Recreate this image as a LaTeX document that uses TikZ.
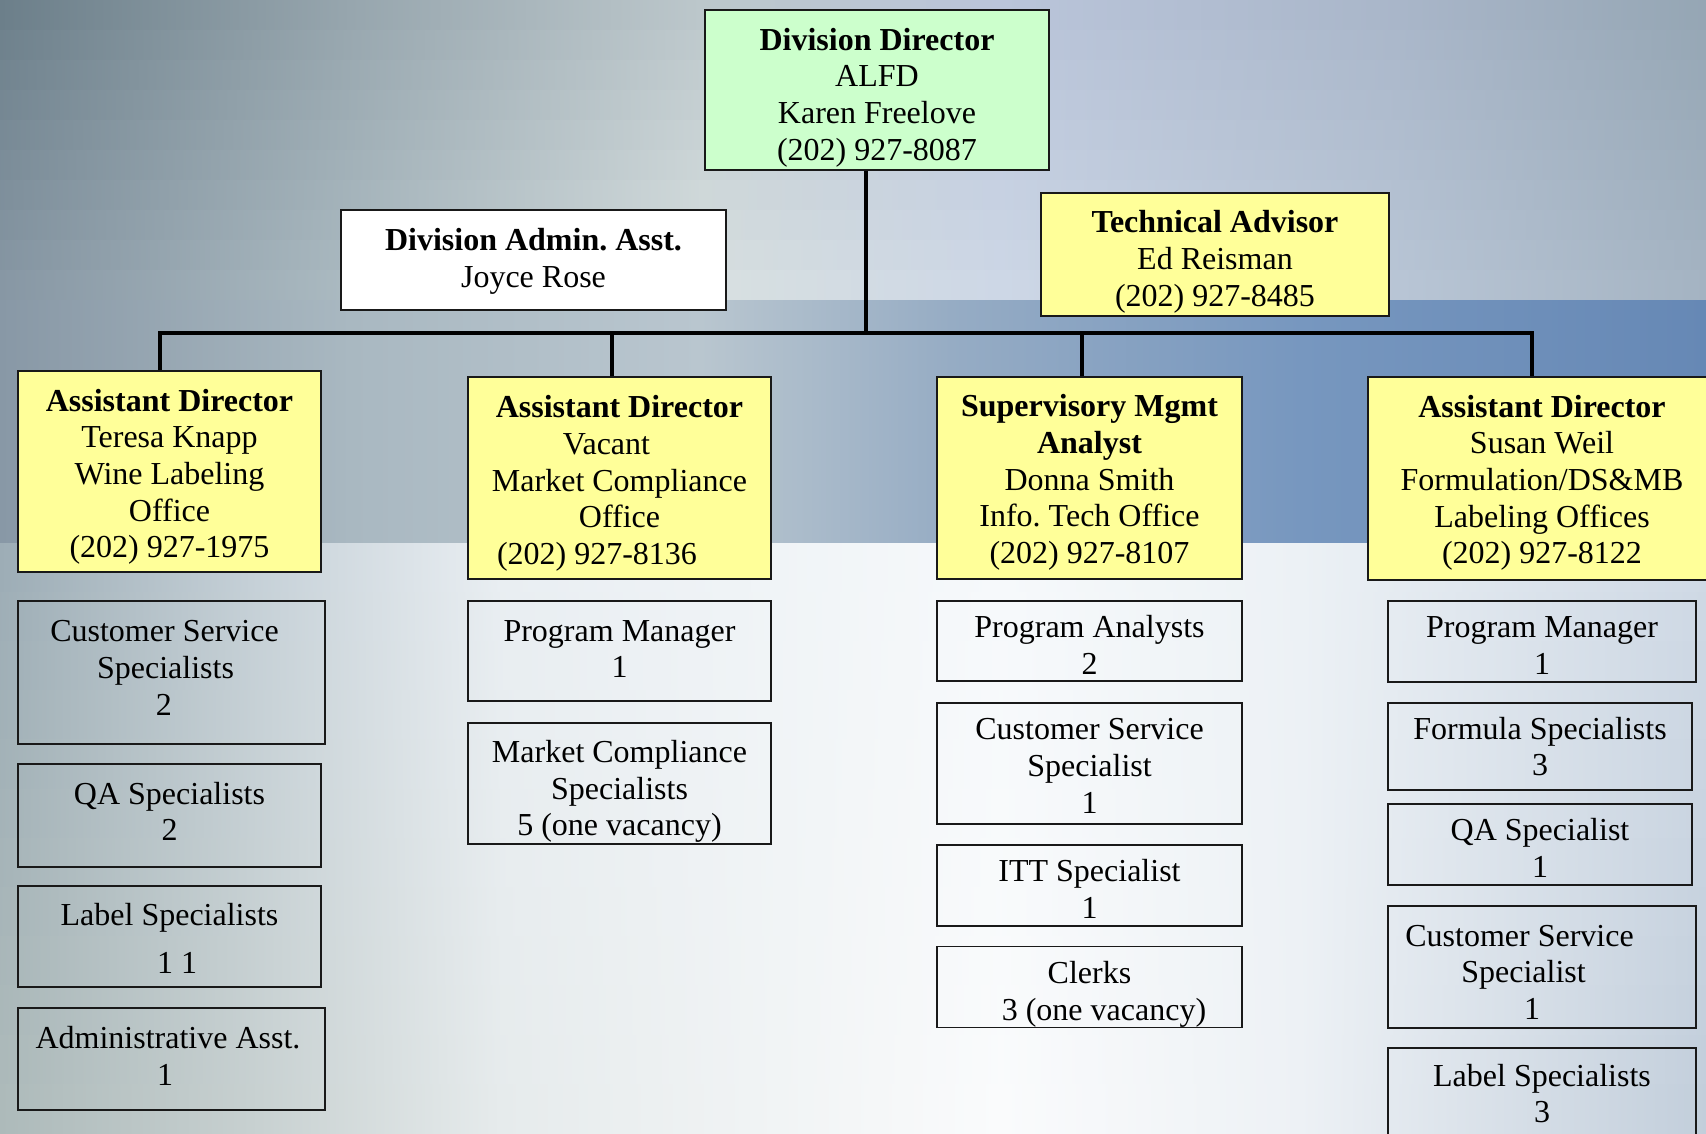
\documentclass[tikz,border=0pt]{standalone}
\usepackage{fontspec}
\setmainfont{Liberation Serif}

\tikzset{every picture/.style={line width=1.5pt}}

% struts: first line / last line, #1 moves the text down (pt)
\newcommand{\tb}[1]{\rule{0pt}{\dimexpr 31pt+#1pt\relax}}
\newcommand{\te}[1]{\rule[\dimexpr #1pt-11pt\relax]{0pt}{\dimexpr 11pt-#1pt\relax}}
% blank width, to push a line off centre
\newcommand{\pad}[1]{\rule{#1pt}{0pt}}

\definecolor{ddgreen}{HTML}{CCFFCC}
\definecolor{boxyellow}{HTML}{FFFF99}
% background tones
\definecolor{tuA}{HTML}{6C7F8A}\definecolor{tlA}{HTML}{8797A4}
\definecolor{tuB}{HTML}{97A6AE}\definecolor{tlB}{HTML}{ABBAC1}
\definecolor{tuC}{HTML}{BCC7CB}\definecolor{tlC}{HTML}{D8E0E0}
\definecolor{tuD}{HTML}{BAC5DA}\definecolor{tlD}{HTML}{CDD7E6}
\definecolor{tuE}{HTML}{A9B6C9}\definecolor{tlE}{HTML}{B8C5D5}
\definecolor{tuF}{HTML}{95A6B4}\definecolor{tlF}{HTML}{A4B3C2}
\definecolor{midA}{HTML}{8898A6}
\definecolor{midB}{HTML}{A9B8C1}
\definecolor{midC}{HTML}{B9C6CF}
\definecolor{midD}{HTML}{96ACC4}
\definecolor{midE}{HTML}{7797BF}
\definecolor{midF}{HTML}{6688B5}
\definecolor{buA}{HTML}{9DADB6}\definecolor{blA}{HTML}{ADBABA}
\definecolor{buB}{HTML}{C5D0D7}\definecolor{blB}{HTML}{C7D0D0}
\definecolor{buC}{HTML}{E9EEF2}\definecolor{blC}{HTML}{E6EBEC}
\definecolor{buD}{HTML}{F6F9FB}\definecolor{blD}{HTML}{FAFBFC}
\definecolor{buE}{HTML}{ECF1F5}\definecolor{blE}{HTML}{EDF1F5}
\definecolor{buF}{HTML}{CFD9E5}\definecolor{blF}{HTML}{C2CEDB}

\begin{document}
\begin{tikzpicture}[x=1pt,y=1pt,yscale=-1,xscale=1,
  box/.style={draw=black!90,line width=1.5pt,inner sep=0pt,align=center,font=\fontsize{32}{36.6}\selectfont\frenchspacing},
  conn/.style={line width=4pt}]
\useasboundingbox (0,0) rectangle (1706,1133);

%Background: upper band
\foreach \r in {0,...,9} {
  \pgfmathtruncatemacro{\p}{100-\r*100/9}
  \pgfmathsetmacro{\ya}{\r*30.1}
  \foreach \xa/\xb/\ca/\cb in {0/350/A/B,350/700/B/C,700/1000/C/D,1000/1400/D/E,1400/1706/E/F}
    \shade[left color=tu\ca!\p!tl\ca,right color=tu\cb!\p!tl\cb] (\xa,\ya) rectangle (\xb+1,\ya+31.1);
}
%Background: middle band
\foreach \xa/\xb/\ca/\cb in {0/350/midA/midB,350/700/midB/midC,700/950/midC/midD,950/1300/midD/midE,1300/1706/midE/midF}
  \shade[left color=\ca,right color=\cb] (\xa,300) rectangle (\xb+1,544);
%Background: lower band
\foreach \r in {0,...,11} {
  \pgfmathtruncatemacro{\p}{100-\r*100/11}
  \pgfmathsetmacro{\ya}{543+\r*49.2}
  \foreach \xa/\xb/\ca/\cb in {0/250/A/B,250/500/B/C,500/1000/C/D,1000/1300/D/E,1300/1706/E/F}
    \shade[left color=bu\ca!\p!bl\ca,right color=bu\cb!\p!bl\cb] (\xa,\ya) rectangle (\xb+1,\ya+50.2);
}
\clip (0,0) rectangle (1706,1133);

%Top row
\node (dd) at (877,90) [box,fill=ddgreen,minimum width=344,minimum height=160]
  {\tb{6.3}\textbf{Division Director}\\ALFD\\Karen Freelove\\(202) 927-8087\te{6.3}};
\node (adm) at (533.5,260) [box,fill=white,minimum width=385,minimum height=100]
  {\tb{-1}\textbf{Division Admin. Asst.}\\Joyce Rose\te{-1}};
\node (tech) at (1215,254.5) [box,fill=boxyellow,minimum width=348,minimum height=123]
  {\tb{5.7}\textbf{Technical Advisor}\\Ed Reisman\\(202) 927-8485\te{5.7}};

%Assistant directors
\node (ad1) at (169.5,471.5) [box,fill=boxyellow,minimum width=303,minimum height=201]
  {\tb{3}\textbf{Assistant Director}\\Teresa Knapp\\Wine Labeling\\Office\\(202) 927-1975\te{3}};
\node (ad2) at (619.5,478) [box,fill=boxyellow,minimum width=303,minimum height=202]
  {\tb{3}\textbf{Assistant Director}\\Vacant\pad{26}\\Market Compliance\\Office\\(202) 927-8136\pad{45}\te{3}};
\node (sma) at (1089.5,478) [box,fill=boxyellow,minimum width=305,minimum height=202]
  {\tb{2}\textbf{Supervisory Mgmt}\\\textbf{Analyst}\\Donna Smith\\Info. Tech Office\\(202) 927-8107\te{2}};
\node (ad4) at (1542,478.5) [box,fill=boxyellow,minimum width=348,minimum height=203]
  {\tb{2}\textbf{Assistant Director}\\Susan Weil\\Formulation/DS\&MB\\Labeling Offices\\(202) 927-8122\te{2}};

%Wine labeling staff
\node (wcss) at (171.5,672.5) [box,minimum width=307,minimum height=143]
  {\tb{-4.1}Customer Service\pad{14}\\Specialists\pad{12}\\2\pad{15}\te{-4.1}};
\node (wqa) at (169.5,815.5) [box,minimum width=303,minimum height=103] {\tb{-2.9}QA Specialists\\2\te{-2.9}};
\node (wlab) at (169.5,936.5) [box,minimum width=303,minimum height=101] {\tb{3.1}Label Specialists\\[11pt]\pad{15}1 1\te{3.1}};
\node (wadm) at (171.5,1059) [box,minimum width=307,minimum height=102] {\tb{-2.3}Administrative Asst.\pad{7}\\1\pad{13}\te{-2.3}};

%Market compliance staff
\node (mpm) at (619.5,651) [box,minimum width=303,minimum height=100] {\tb{-1.6}Program Manager\\1\te{-1.6}};
\node (mmcs) at (619.5,783.5) [box,minimum width=303,minimum height=121] {\tb{7}Market Compliance\\Specialists\\5 (one vacancy)\te{7}};

%Info tech staff
\node (ipa) at (1089.5,641) [box,minimum width=305,minimum height=80] {\tb{4.7}Program Analysts\\2\te{4.7}};
\node (icss) at (1089.5,763.5) [box,minimum width=305,minimum height=121] {\tb{3}Customer Service\\Specialist\\1\te{3}};
\node (iitt) at (1089.5,885.5) [box,minimum width=305,minimum height=81] {\tb{4.2}ITT Specialist\\1\te{4.2}};
\node (iclk) at (1089.5,987) [box,minimum width=305,minimum height=80] {\tb{6.4}Clerks\\\pad{29}3 (one vacancy)\te{6.4}};

%Formulation staff
\node (fpm) at (1542,641.5) [box,minimum width=308,minimum height=81] {\tb{4.4}Program Manager\\1\te{4.4}};
\node (ffs) at (1540,746.5) [box,minimum width=304,minimum height=87] {\tb{1}Formula Specialists\\3\te{1}};
\node (fqa) at (1540,844.5) [box,minimum width=304,minimum height=81] {\tb{4.7}QA Specialist\\1\te{4.7}};
\node (fcss) at (1542,967) [box,minimum width=308,minimum height=122]
  {\tb{5.7}Customer Service\pad{45}\\Specialist\pad{37}\\1\pad{20}\te{5.7}};
\node (flab) at (1542,1094) [box,minimum width=308,minimum height=92] {\tb{0.4}Label Specialists\\3\te{0.4}};

%Connectors
\coordinate (bus) at (0,333);
\coordinate (t0) at ([xshift=-11pt]dd.south);
\coordinate (t1) at ([xshift=-10pt]ad1.north);
\coordinate (t2) at ([xshift=-8pt]ad2.north);
\coordinate (t3) at ([xshift=-8pt]sma.north);
\coordinate (t4) at ([xshift=-10pt]ad4.north);
\draw[conn] (t1) -- (t1 |- bus) -- (t4 |- bus) -- (t4);
\draw[conn] (t0) -- (t0 |- bus);
\draw[conn] (t2) -- (t2 |- bus);
\draw[conn] (t3) -- (t3 |- bus);

\end{tikzpicture}
\end{document}
